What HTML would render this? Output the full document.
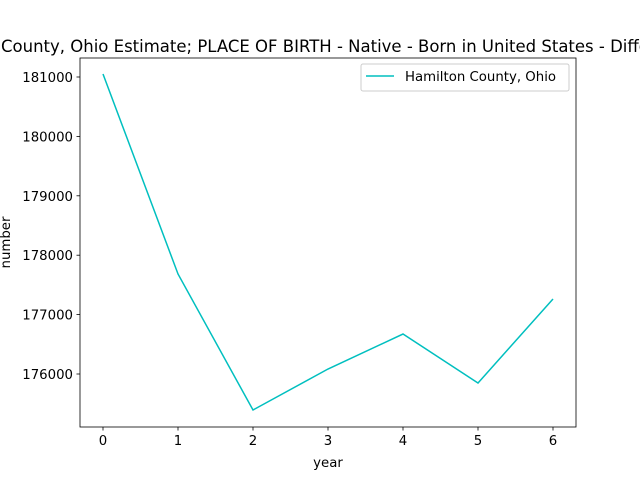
<!DOCTYPE html>
<html><head><meta charset="utf-8"><style>
body{margin:0;background:#fff;overflow:hidden;}
svg text{font-family:"DejaVu Sans","Liberation Sans",sans-serif;font-size:13.3px;fill:#000;}
</style></head><body>
<svg width="640" height="480" xmlns="http://www.w3.org/2000/svg">
<rect width="640" height="480" fill="#fff"/>
<text x="-79" y="52" text-anchor="start" style="font-size:16.5px">Hamilton County, Ohio Estimate; PLACE OF BIRTH - Native - Born in United States - Different state</text>
<g id="axes"></g>
</svg>
<script>
const years=[0,1,2,3,4,5,6];
const values=[181050,177684,175394,176084,176673,175848,177263];
const yTicks=[176000,177000,178000,179000,180000,181000];
const xTicks=[0,1,2,3,4,5,6];
const L=80,R=576,T=58,B=427;
const sx=v=>103+v*75;
const sy=v=>77+(181000-v)*0.0594;
const g=document.getElementById('axes');
const NS='http://www.w3.org/2000/svg';
function mk(t,a){const e=document.createElementNS(NS,t);for(const k in a)e.setAttribute(k,a[k]);g.appendChild(e);return e;}
yTicks.forEach(v=>{
 const y=sy(v);
 const tk=mk('line',{x1:L-3.5,x2:L,y1:y,y2:y,stroke:'#000','stroke-width':0.8});
 
 
 const t=mk('text',{x:L-7,y:y+5,'text-anchor':'end'});t.textContent=v;
 
 
});
xTicks.forEach(v=>{
 const x=sx(v);
 const tk=mk('line',{x1:x,x2:x,y1:B,y2:B+3.5,stroke:'#000','stroke-width':0.8});
 
 
 const t=mk('text',{x:x,y:B+18,'text-anchor':'middle'});t.textContent=v;
 
 
});
const p=mk('polyline',{points:years.map((x,i)=>sx(x)+','+sy(values[i])).join(' '),fill:'none',stroke:'#00bfbf','stroke-width':1.5});


const fr=mk('rect',{x:L,y:T,width:R-L,height:B-T,fill:'none',stroke:'#000','stroke-width':0.8});


const xl=mk('text',{x:(L+R)/2,y:467,'text-anchor':'middle'});xl.textContent='year';


const yl=mk('text',{x:0,y:0,'text-anchor':'middle',transform:'translate(10,'+(T+B)/2+') rotate(-90)'});yl.textContent='number';


const lg=mk('rect',{x:361,y:64,width:208,height:27,fill:'#fff',stroke:'#ccc','stroke-width':1,rx:2});


const ll=mk('line',{x1:366,x2:394,y1:76,y2:76,stroke:'#00bfbf','stroke-width':1.5});


const lt=mk('text',{x:405,y:81});lt.textContent='Hamilton County, Ohio';


</script>
</body></html>
